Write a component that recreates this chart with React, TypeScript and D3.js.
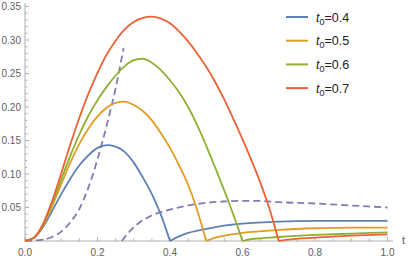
import React from "react";
import * as d3 from "d3";

const W = 409;
const H = 260;

// t0 values for the legend
const t0Values = [0.4, 0.5, 0.6, 0.7];
const seriesColors = ["#5E81B5", "#E19C24", "#8FB032", "#EB6235"];
const dashedColor = "#8778B3";

// main curves: [t, value]
const curveT04: [number, number][] = [
  [0, 0], [0.025, 0.005], [0.05, 0.021], [0.075, 0.045], [0.1, 0.07], [0.125, 0.093],
  [0.15, 0.113], [0.175, 0.128], [0.2, 0.139], [0.225, 0.143], [0.25, 0.141], [0.275, 0.133],
  [0.3, 0.117], [0.325, 0.095], [0.35, 0.07], [0.375, 0.039], [0.4, 0],
  [0.425, 0.007], [0.45, 0.012], [0.5, 0.018], [0.55, 0.023], [0.6, 0.026], [0.7, 0.029],
  [0.8, 0.030], [0.9, 0.030], [1.0, 0.030],
];
const curveT05: [number, number][] = [
  [0, 0], [0.025, 0.005], [0.05, 0.023], [0.075, 0.052], [0.1, 0.085], [0.125, 0.117],
  [0.15, 0.145], [0.175, 0.168], [0.2, 0.186], [0.225, 0.199], [0.25, 0.206], [0.275, 0.208],
  [0.3, 0.203], [0.325, 0.194], [0.35, 0.18], [0.375, 0.161], [0.4, 0.139], [0.425, 0.113],
  [0.45, 0.084], [0.475, 0.046], [0.5, 0],
  [0.525, 0.005], [0.55, 0.008], [0.6, 0.012], [0.7, 0.0165], [0.8, 0.019], [0.9, 0.020], [1.0, 0.020],
];
const curveT06: [number, number][] = [
  [0, 0], [0.025, 0.005], [0.05, 0.024], [0.075, 0.056], [0.1, 0.092], [0.125, 0.127],
  [0.15, 0.159], [0.175, 0.187], [0.2, 0.21], [0.225, 0.23], [0.25, 0.247], [0.275, 0.261],
  [0.3, 0.27], [0.325, 0.272], [0.35, 0.266], [0.375, 0.255], [0.4, 0.24], [0.425, 0.222],
  [0.45, 0.2], [0.475, 0.173], [0.5, 0.142], [0.525, 0.109], [0.55, 0.075], [0.575, 0.039], [0.6, 0],
  [0.625, 0.003], [0.65, 0.004], [0.7, 0.006], [0.8, 0.009], [0.9, 0.011], [1.0, 0.013],
];
const curveT07: [number, number][] = [
  [0, 0], [0.025, 0.005], [0.05, 0.026], [0.075, 0.06], [0.1, 0.101], [0.125, 0.144],
  [0.15, 0.184], [0.175, 0.22], [0.2, 0.251], [0.225, 0.278], [0.25, 0.299], [0.275, 0.316],
  [0.3, 0.327], [0.325, 0.333], [0.35, 0.335], [0.375, 0.332], [0.4, 0.325], [0.425, 0.313],
  [0.45, 0.298], [0.475, 0.28], [0.5, 0.26], [0.525, 0.237], [0.55, 0.211], [0.575, 0.182],
  [0.6, 0.152], [0.625, 0.12], [0.65, 0.086], [0.675, 0.047], [0.7, 0],
  [0.725, 0.002], [0.8, 0.005], [0.9, 0.008], [1.0, 0.010],
];
const mainCurves = [curveT04, curveT05, curveT06, curveT07];

// dashed curves
const dashedA: [number, number][] = [
  [0, 0], [0.05, 0.002], [0.075, 0.006], [0.1, 0.014], [0.125, 0.028], [0.15, 0.048],
  [0.175, 0.08], [0.2, 0.122], [0.225, 0.172], [0.25, 0.228], [0.272, 0.288],
];
const dashedB: [number, number][] = [
  [0.267, 0], [0.29, 0.015], [0.317, 0.028], [0.35, 0.038], [0.4, 0.047], [0.45, 0.053],
  [0.5, 0.057], [0.55, 0.059], [0.6, 0.060], [0.65, 0.0598], [0.7, 0.058], [0.8, 0.056],
  [0.9, 0.053], [1.0, 0.050],
];

const xMajor = [0, 0.2, 0.4, 0.6, 0.8, 1.0];
const yMajor = [0.05, 0.1, 0.15, 0.2, 0.25, 0.3, 0.35];

export default function App() {
  const x = d3.scaleLinear().domain([0, 1]).range([25, 387.5]);
  const y = d3.scaleLinear().domain([0, 0.35]).range([241, 6.5]);
  const line = d3
    .line<[number, number]>()
    .x((d) => x(d[0]))
    .y((d) => y(d[1]))
    .curve(d3.curveMonotoneX);

  // split at kink (zero after start)
  const splitAtKink = (data: [number, number][]) => {
    const k = data.findIndex((d, i) => i > 0 && d[1] === 0);
    if (k < 0) return [data];
    return [data.slice(0, k + 1), data.slice(k)];
  };

  const xMinor = d3.range(0, 1.0001, 0.05).filter((v) => !xMajor.some((m) => Math.abs(m - v) < 1e-6));
  const yMinor = d3.range(0.01, 0.3501, 0.01).filter((v) => !yMajor.some((m) => Math.abs(m - v) < 1e-6));

  const axisColor = "#b0b0b0";
  const textColor = "#606060";
  const font = "'Liberation Sans', Arial, sans-serif";

  return (
    <svg width={W} height={H} style={{ position: "absolute", left: 0, top: 0 }} fontFamily={font}>
      <rect width={W} height={H} fill="white" />
      {/* axes */}
      <line x1={25} x2={393} y1={241} y2={241} stroke={axisColor} strokeWidth={1} />
      <line x1={25} x2={25} y1={241} y2={3} stroke={axisColor} strokeWidth={1} />
      {xMajor.map((v) => (
        <g key={"xm" + v}>
          <line x1={x(v)} x2={x(v)} y1={241} y2={237} stroke={axisColor} />
          <text x={x(v)} y={256} textAnchor="middle" fontSize={10} fill={textColor}>
            {d3.format(".1f")(v)}
          </text>
        </g>
      ))}
      {xMinor.map((v) => (
        <line key={"xn" + v} x1={x(v)} x2={x(v)} y1={241} y2={238.5} stroke={axisColor} />
      ))}
      {yMajor.map((v) => (
        <g key={"ym" + v}>
          <line x1={25} x2={29} y1={y(v)} y2={y(v)} stroke={axisColor} />
          <text x={21} y={y(v)} dy="0.35em" textAnchor="end" fontSize={10} fill={textColor}>
            {d3.format(".2f")(v)}
          </text>
        </g>
      ))}
      {yMinor.map((v) => (
        <line key={"yn" + v} x1={25} x2={27.5} y1={y(v)} y2={y(v)} stroke={axisColor} />
      ))}
      <text x={402} y={244} fontSize={11} fill={textColor}>t</text>

      {/* dashed curves */}
      {[dashedA, dashedB].map((d, i) => (
        <path key={"d" + i} d={line(d) || ""} fill="none" stroke={dashedColor} strokeWidth={1.8} strokeDasharray="7,4" />
      ))}

      {/* main curves */}
      {mainCurves.map((c, i) =>
        splitAtKink(c).map((seg, j) => (
          <path key={"c" + i + "_" + j} d={line(seg) || ""} fill="none" stroke={seriesColors[i]} strokeWidth={1.8} strokeLinejoin="round" />
        ))
      )}

      {/* legend */}
      {t0Values.map((t0, i) => {
        const ly = 17 + i * 23.7;
        return (
          <g key={"l" + i}>
            <line x1={286} x2={308} y1={ly} y2={ly} stroke={seriesColors[i]} strokeWidth={2} />
            <text x={316} y={ly} dy="0.36em" fontSize={12.5} fill="#222">
              <tspan fontStyle="italic">t</tspan>
              <tspan fontSize={9} dy="3">0</tspan>
              <tspan dy="-3">={d3.format(".1f")(t0)}</tspan>
            </text>
          </g>
        );
      })}
    </svg>
  );
}
